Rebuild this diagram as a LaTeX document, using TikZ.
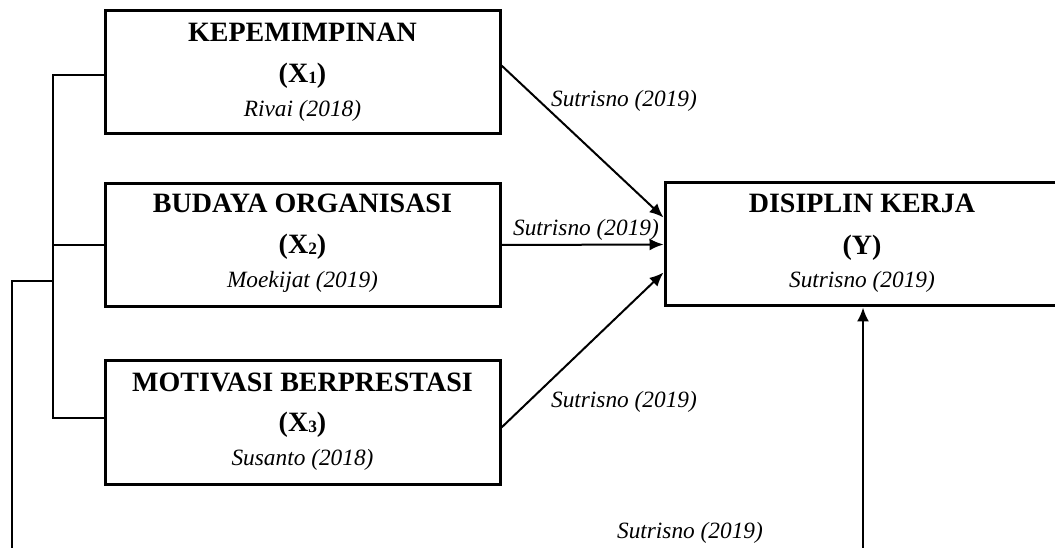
\documentclass[tikz,border=0pt]{standalone}
\usepackage{fontspec}
\setmainfont{Liberation Serif}
\usetikzlibrary{arrows.meta,calc}
\tikzset{
  varbox/.style={draw, line width=2.25pt, inner sep=0pt, minimum width=296.25pt, minimum height=92.25pt},
  ybox/.style={draw, line width=2.25pt, inner sep=0pt, minimum width=295.5pt, minimum height=92.25pt},
  ttl/.style={anchor=base, inner sep=0pt, font=\fontsize{21}{21}\selectfont\bfseries},
  cite/.style={anchor=base, inner sep=0pt, font=\fontsize{17.5}{17.5}\selectfont\itshape},
  link/.style={line width=1.5pt, -{Latex[length=10.5pt,width=9pt]}},
  brace/.style={line width=1pt},
}
\newcommand{\subnum}[1]{\raisebox{-0.8pt}{\fontsize{13}{13}\selectfont\bfseries #1}}
\begin{document}
\begin{tikzpicture}[x=0.75pt,y=-0.75pt]
\useasboundingbox (0,0) rectangle (1055,548);
% boxes
\node[varbox] (b1) at (302.5,72.5) {};
\node[varbox] (b2) at (302.5,245) {};
\node[varbox] (b3) at (302.5,422.5) {};
\node[ybox] (y) at (862,244.5) {};
% texts box 1
\node[ttl] (b1a) at (302.5,42) {KEPEMIMPINAN};
\node[ttl] (b1b) at (302.5,82.5) {(X\subnum{1})};
\node[cite] (b1c) at (302.5,116.5) {Rivai (2018)};
% texts box 2
\node[ttl] (b2a) at (302.5,213) {BUDAYA ORGANISASI};
\node[ttl] (b2b) at (302.5,253.5) {(X\subnum{2})};
\node[cite] (b2c) at (302.5,288) {Moekijat (2019)};
% texts box 3
\node[ttl] (b3a) at (302.5,391) {MOTIVASI BERPRESTASI};
\node[ttl] (b3b) at (302.5,431) {(X\subnum{3})};
\node[cite] (b3c) at (302.5,465) {Susanto (2018)};
% texts Y
\node[ttl] (ya) at (862,213) {DISIPLIN KERJA};
\node[ttl] (yb) at (862,254.5) {(Y)};
\node[cite] (yc) at (862,288) {Sutrisno (2019)};
% arrows
\draw[link] ($(b1.east)+(0,-7)$) -- ($(y.west)+(0,-27)$);
\draw[link] (b2.east) -- (y.west);
\draw[link] ($(b3.east)+(0,5)$) -- ($(y.west)+(0,28)$);
\coordinate (ybot) at (863,550);
\draw[link] (ybot) -- (ybot |- y.south);
% arrow labels
\node[cite] (l1) at (624,107) {Sutrisno (2019)};
\node[cite] (l2) at (586,236) {Sutrisno (2019)};
\node[cite] (l3) at (624,407) {Sutrisno (2019)};
\node[cite] (l4) at (690,538) {Sutrisno (2019)};
% bracket
\coordinate (bx) at (53,0);
\draw[brace] ($(b1.west)+(0,2.5)$) -- ($(b1.west -| bx)+(0,2.5)$) -- ($(b3.west -| bx)+(0,-4.5)$) -- ($(b3.west)+(0,-4.5)$);
\draw[brace] (b2.west) -- (b2.west -| bx);
\coordinate (j) at (53,281);
\coordinate (obot) at (12,550);
\draw[brace] (j) -- (j -| obot) -- (obot);
\end{tikzpicture}
\end{document}
